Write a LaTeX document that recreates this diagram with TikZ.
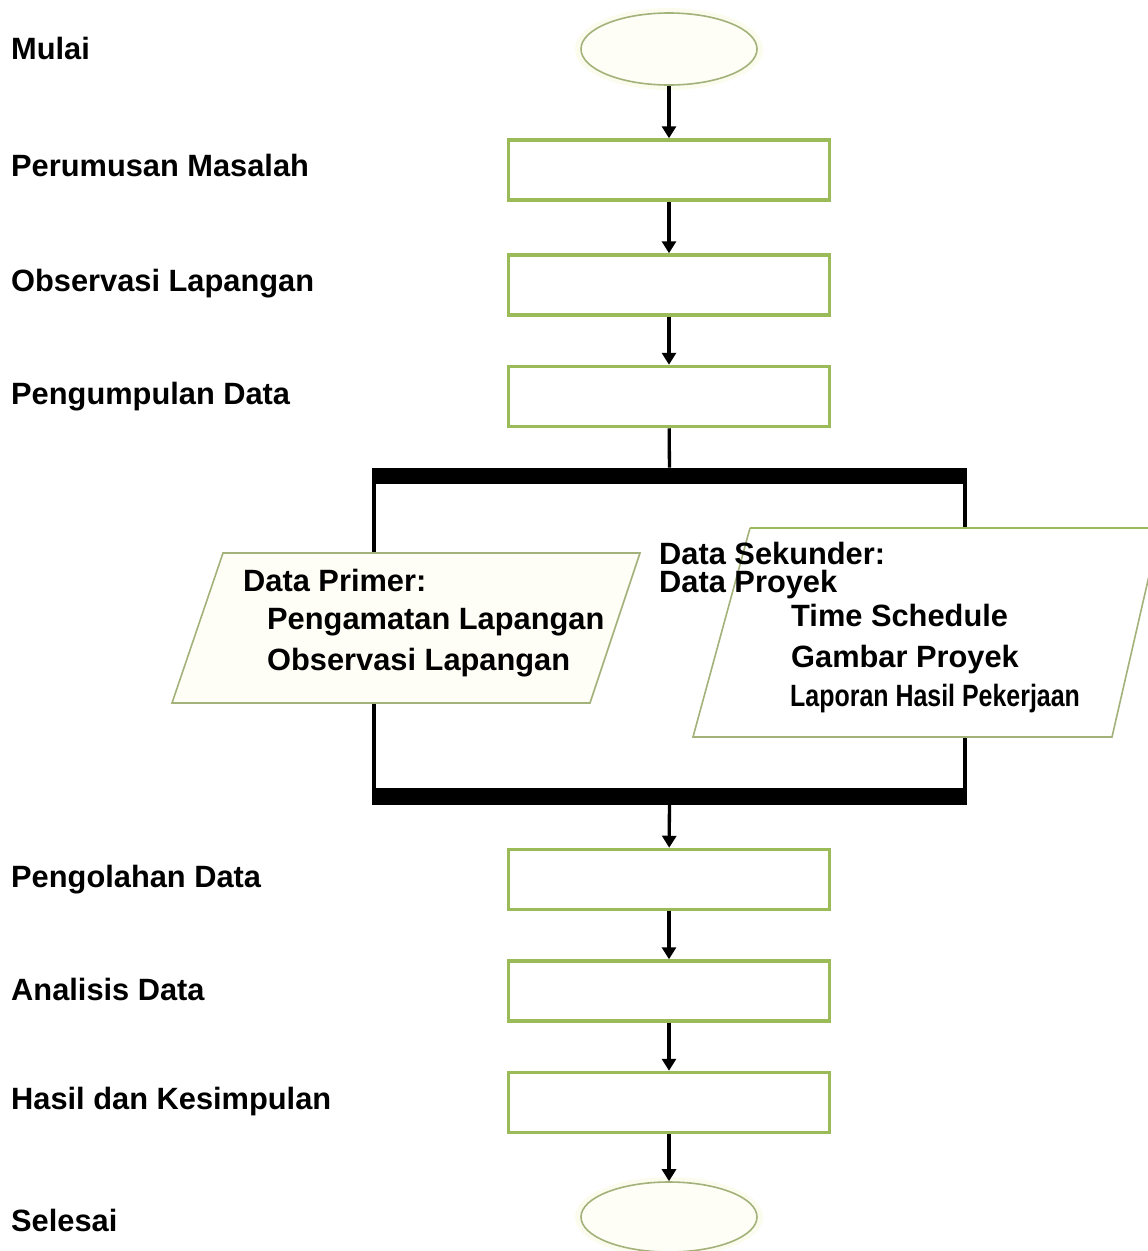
\documentclass[tikz,border=0pt]{standalone}
\usepackage{fontspec}
\setmainfont{Liberation Sans}
\usetikzlibrary{shapes.geometric,arrows.meta}
\definecolor{boxgreen}{HTML}{9BBB59}
\definecolor{olive}{HTML}{A3B27A}
\definecolor{glow}{HTML}{FBFCEE}
\definecolor{cream}{HTML}{FEFEF6}
\tikzset{
  lbl/.style={anchor=base west, inner sep=0pt, font=\fontsize{30.8}{36}\selectfont\bfseries},
  procbox/.style={draw=boxgreen, line width=3.5pt, fill=white, rectangle,
    minimum width=321pt, minimum height=60pt, inner sep=0pt},
  term/.style={draw=olive, line width=1.6pt, fill=cream, ellipse,
    minimum width=176pt, minimum height=72pt, inner sep=0pt},
  bar/.style={fill=black, draw=none, rectangle, minimum width=595pt, minimum height=16.5pt, inner sep=0pt},
  arr/.style={line width=3.3pt, -{Triangle[width=14pt,length=12pt]}},
  conn/.style={line width=3.3pt},
  para/.style={draw=olive, line width=1.6pt}
}
\begin{document}
\begin{tikzpicture}[x=1pt,y=-1pt]
\useasboundingbox (0,0) rectangle (1148,1251);
\clip (0,0) rectangle (1148,1251);
\fill[white] (0,0) rectangle (1148,1251);

% left labels
\node[lbl] (l1) at (11,59) {Mulai};
\node[lbl] (l2) at (11,176) {Perumusan Masalah};
\node[lbl] (l3) at (11,291) {Observasi Lapangan};
\node[lbl] (l4) at (11,404) {Pengumpulan Data};
\node[lbl] (l5) at (11,887) {Pengolahan Data};
\node[lbl] (l6) at (11,1000) {Analisis Data};
\node[lbl] (l7) at (11,1109) {Hasil dan Kesimpulan};
\node[lbl] (l8) at (11,1231) {Selesai};

% faint glow behind terminals
\fill[glow] (669,49) ellipse (94pt and 41pt);
\fill[glow] (669,1217) ellipse (94pt and 40pt);

% flow nodes
\node[term] (start) at (669,49) {};
\node[procbox] (b1) at (669,170) {};
\node[procbox] (b2) at (669,285) {};
\node[procbox] (b3) at (669,396.5) {};
\node[bar] (topbar) at (669.5,476) {};
\node[bar] (botbar) at (669.5,796.5) {};
\node[procbox] (b4) at (669,879.5) {};
\node[procbox] (b5) at (669,991) {};
\node[procbox] (b6) at (669,1102.5) {};
\node[term, minimum height=70pt] (stop) at (669,1217) {};

% parallelogram anchor points
\coordinate (L1) at (374,553);
\coordinate (L2) at (374,703);
\coordinate (R1) at (965,528);
\coordinate (R2) at (965,737);

% connectors
\draw[arr] (start) -- (b1);
\draw[arr] (b1) -- (b2);
\draw[arr] (b2) -- (b3);
\draw[conn] (b3) -- (topbar);
\draw[conn] (topbar.south -| L1) -- (L1);
\draw[conn] (L2) -- (botbar.north -| L2);
\draw[conn] (topbar.south -| R1) -- (R1);
\draw[conn] (R2) -- (botbar.north -| R2);
\draw[arr] (botbar) -- (b4);
\draw[arr] (b4) -- (b5);
\draw[arr] (b5) -- (b6);
\draw[arr] (b6) -- (stop);

% left parallelogram (input data)
\filldraw[para, fill=cream] (223,553) -- (640,553) -- (590,703) -- (172,703) -- cycle;
% right parallelogram (input data)
\fill[white] (750,528) -- (1160,528) -- (1112,737) -- (693,737) -- cycle;
\draw[para] (1160,528) -- (1112,737) -- (693,737) -- (750,528);
\draw[draw=boxgreen, line width=2pt] (750,528) -- (1160,528);

% texts in data shapes
\node[lbl] (p1) at (243,591) {Data Primer:};
\node[lbl] (p2) at (267,629) {Pengamatan Lapangan};
\node[lbl] (p3) at (267,670) {Observasi Lapangan};
\node[lbl] (s1) at (659,564) {Data Sekunder:};
\node[lbl] (s2) at (659,592) {Data Proyek};
\node[lbl] (s3) at (791,626) {Time Schedule};
\node[lbl] (s4) at (791,667) {Gambar Proyek};
\node[lbl] (s5) at (790,706) {\scalebox{0.81}[1]{Laporan Hasil Pekerjaan}};
\end{tikzpicture}
\end{document}
